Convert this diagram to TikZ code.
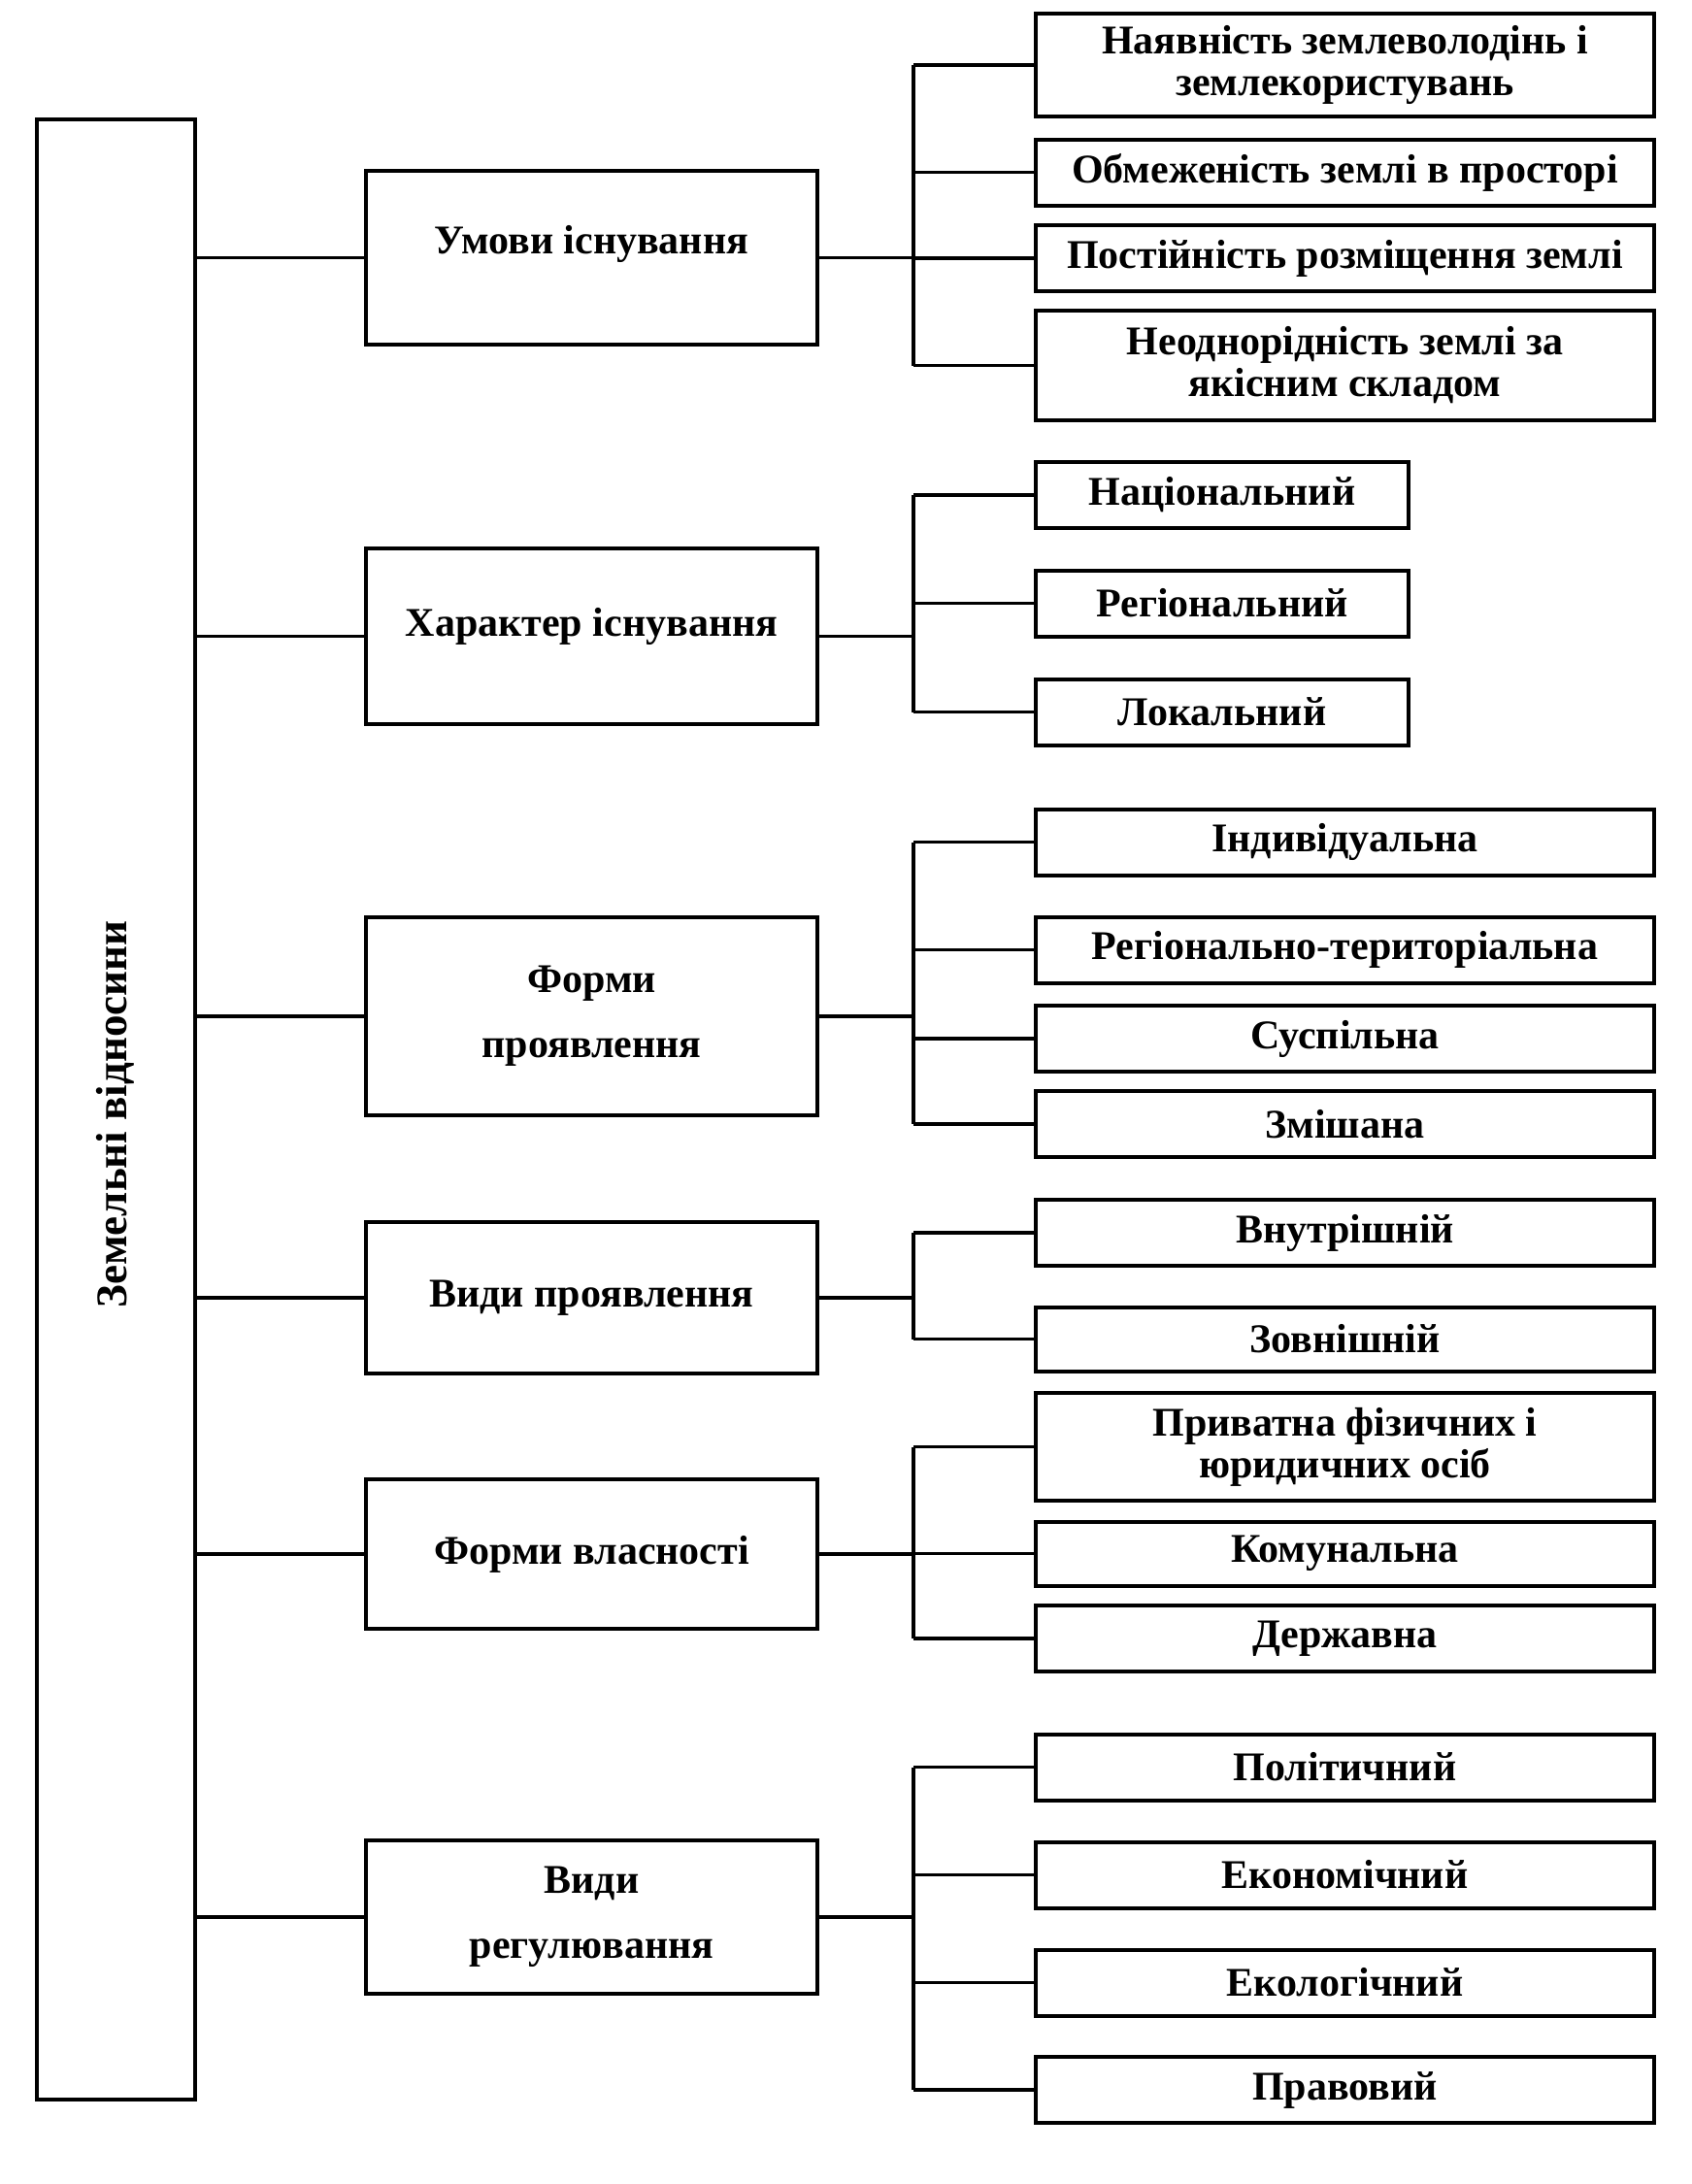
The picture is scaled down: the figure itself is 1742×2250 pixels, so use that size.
\documentclass[tikz,border=0pt]{standalone}
\usepackage{fontspec}
\setmainfont{Liberation Serif}
\newcommand\mybox[6]{\node[box, minimum width=#4pt, minimum height=#5pt] (#1) at (#2,#3) {#6};}
\begin{document}
\begin{tikzpicture}[x=0.5pt,y=-0.5pt,
  box/.style={draw, line width=2pt, inner sep=0pt, align=center, font=\fontsize{21}{21.5}\selectfont\bfseries},
  conn/.style={line width=1.6pt},
  lbl/.style={font=\fontsize{21}{21.5}\selectfont\bfseries, align=center, inner sep=0pt}]
\useasboundingbox (0,0) rectangle (1742,2250);
% main box
\node[draw, line width=2pt, minimum width=81.5pt, minimum height=1020pt, inner sep=0pt] (M) at (119.5,1143) {};
\node[lbl, rotate=90, font=\fontsize{22.5}{23}\selectfont\bfseries] (Mt) at (119,1148) {Земельні відносини};
% level 1
\mybox{A}{609.5}{265.5}{232.5}{89.5}{}
\node[lbl] (At) at ([yshift=7pt]A.center) {Умови існування};
\mybox{B}{609.5}{655.5}{232.5}{90.5}{}
\node[lbl] (Bt) at ([yshift=5pt]B.center) {Характер існування};
\mybox{C}{609.5}{1047}{232.5}{102}{Форми\\[12pt]проявлення}
\mybox{D}{609.5}{1337}{232.5}{78}{Види проявлення}
\mybox{E}{609.5}{1601}{232.5}{77}{Форми власності}
\mybox{F}{609.5}{1975}{232.5}{79}{Види\\[12pt]регулювання}
% level 2
\mybox{A1}{1385.5}{67}{318.5}{53}{Наявність землеволодінь і\\землекористувань}
\mybox{A2}{1385.5}{177.5}{318.5}{34}{Обмеженість землі в просторі}
\mybox{A3}{1385.5}{266}{318.5}{34}{Постійність розміщення землі}
\mybox{A4}{1385.5}{376.5}{318.5}{56.5}{Неоднорідність землі за\\якісним складом}
\mybox{B1}{1259}{510}{192}{34}{Національний}
\mybox{B2}{1259}{621.5}{192}{34}{Регіональний}
\mybox{B3}{1259}{733.5}{192}{34}{Локальний}
\mybox{C1}{1385.5}{867.5}{318.5}{34}{Індивідуальна}
\mybox{C2}{1385.5}{978.5}{318.5}{34}{Регіонально-територіальна}
\mybox{C3}{1385.5}{1070}{318.5}{34}{Суспільна}
\mybox{C4}{1385.5}{1158}{318.5}{34}{Змішана}
\mybox{D1}{1385.5}{1270}{318.5}{34}{Внутрішній}
\mybox{D2}{1385.5}{1379.5}{318.5}{33}{Зовнішній}
\mybox{E1}{1385.5}{1490.5}{318.5}{55.5}{Приватна фізичних і\\юридичних осіб}
\mybox{E2}{1385.5}{1600.5}{318.5}{33}{Комунальна}
\mybox{E3}{1385.5}{1688}{318.5}{34}{Державна}
\mybox{F1}{1385.5}{1820.5}{318.5}{34}{Політичний}
\mybox{F2}{1385.5}{1931.5}{318.5}{34}{Економічний}
\mybox{F3}{1385.5}{2042.5}{318.5}{34}{Екологічний}
\mybox{F4}{1385.5}{2153}{318.5}{34}{Правовий}
% connectors from main box
\foreach \X in {A,B,C,D,E,F} \draw[conn] (\X.west) -- (\X.west -| M.east);
% brackets
\coordinate (bx) at (941,0);
\foreach \X/\first/\last/\all in {A/A1/A4/{A1,A2,A3,A4}, B/B1/B3/{B1,B2,B3}, C/C1/C4/{C1,C2,C3,C4}, D/D1/D2/{D1,D2}, E/E1/E3/{E1,E2,E3}, F/F1/F4/{F1,F2,F3,F4}}{
  \draw[conn] (\X.east) -- (\X.east -| bx);
  \draw[conn] (\first.west -| bx) -- (\last.west -| bx);
  \foreach \c in \all \draw[conn] (\c.west) -- (\c.west -| bx);
}
\end{tikzpicture}
\end{document}
